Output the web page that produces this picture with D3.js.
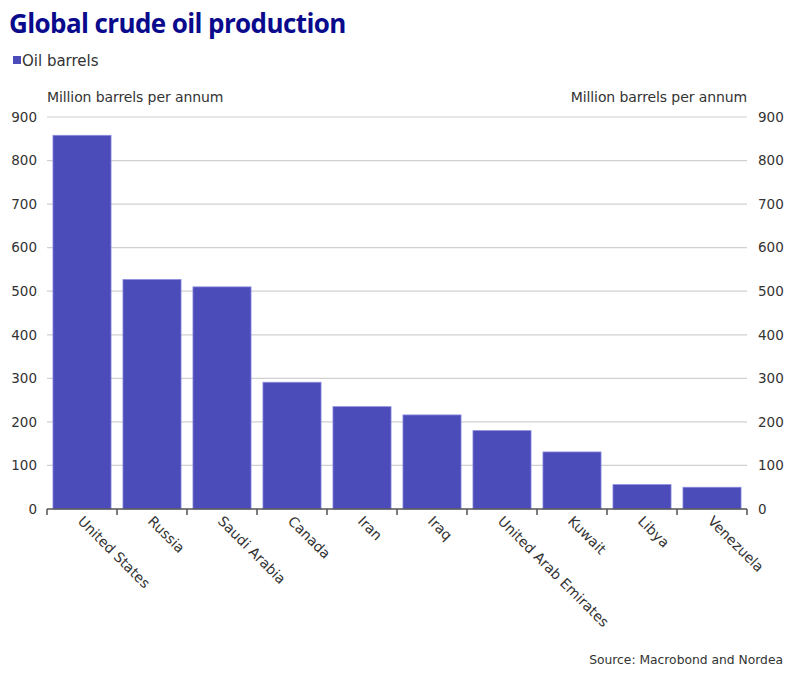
<!DOCTYPE html>
<html><head><meta charset="utf-8">
<script src="https://cdn.jsdelivr.net/npm/d3@7"></script>
<style>body{margin:0;background:#fff}svg{font-family:"DejaVu Sans",Verdana,sans-serif}</style>
</head><body><svg id="c" width="797" height="683"></svg>
<script>
const categories=["United States","Russia","Saudi Arabia","Canada","Iran","Iraq","United Arab Emirates","Kuwait","Libya","Venezuela"];
const values=[858,527,510,291,235,216,180,131,56,50];
const yTicks=[0,100,200,300,400,500,600,700,800,900];
const seriesName="Oil barrels";

(function(){
const svg=d3.select("#c");
const pL=47,pR=747,pT=117,pB=509;
const fs=14, tc="#333";
const x=d3.scaleBand().domain(categories).range([pL,pR]).paddingInner(0.17).paddingOuter(0.085);
const y=d3.scaleLinear().domain([0,900]).range([pB,pT]);

svg.append("text").attr("x",9).attr("y",33).attr("fill","#0a0a8c").attr("font-size",26).attr("font-weight","bold").attr("font-family","'Open Sans',sans-serif").attr("letter-spacing","-0.6").text("Global crude oil production");
svg.append("rect").attr("x",13).attr("y",56).attr("width",8).attr("height",8).attr("fill","#4b4bb9");
svg.append("text").attr("x",22).attr("y",66).attr("font-size",15).attr("fill",tc).text(seriesName);
svg.append("text").attr("x",47).attr("y",102).attr("font-size",fs).attr("fill",tc).attr("letter-spacing","-0.1").text("Million barrels per annum");
svg.append("text").attr("x",747).attr("y",102).attr("text-anchor","end").attr("font-size",fs).attr("fill",tc).attr("letter-spacing","-0.1").text("Million barrels per annum");

svg.append("g").selectAll("line").data(yTicks.filter(d=>d>0)).join("line")
 .attr("x1",pL).attr("x2",pR).attr("y1",d=>y(d)).attr("y2",d=>y(d)).attr("stroke","#d0d0d0").attr("stroke-width",1.2);

svg.append("g").selectAll("rect").data(values).join("rect")
 .attr("x",(d,i)=>x(categories[i])).attr("width",x.bandwidth())
 .attr("y",d=>y(d)).attr("height",d=>y(0)-y(d))
 .attr("fill","#4b4bb9").attr("stroke","#8f8fe0").attr("stroke-width",0.8);

const ly=svg.append("g").attr("transform",`translate(${pL},0)`).call(d3.axisLeft(y).tickValues(yTicks).tickSize(0).tickPadding(10));
ly.select(".domain").remove();
ly.selectAll("text").attr("font-size",13.5).attr("fill",tc).attr("font-family","'DejaVu Sans',sans-serif");
const ry=svg.append("g").attr("transform",`translate(${pR},0)`).call(d3.axisRight(y).tickValues(yTicks).tickSize(0).tickPadding(11));
ry.select(".domain").remove();
ry.selectAll("text").attr("font-size",13.5).attr("fill",tc).attr("font-family","'DejaVu Sans',sans-serif");

svg.append("line").attr("x1",pL).attr("x2",pR).attr("y1",pB).attr("y2",pB).attr("stroke","#555").attr("stroke-width",1.5);
const bounds=d3.range(categories.length+1).map(i=>pL+(pR-pL)*i/categories.length);
svg.append("g").selectAll("line").data(bounds).join("line")
 .attr("x1",d=>d).attr("x2",d=>d).attr("y1",pB).attr("y2",pB+6).attr("stroke","#555").attr("stroke-width",1.5);

svg.append("g").selectAll("text").data(categories).join("text")
 .attr("transform",d=>`translate(${x(d)+x.bandwidth()/2-5},${pB+13}) rotate(45)`)
 .attr("font-size",fs).attr("fill",tc).text(d=>d);

svg.append("text").attr("x",783).attr("y",664).attr("text-anchor","end").attr("font-size",12.3).attr("fill",tc).text("Source: Macrobond and Nordea");
})();
</script></body></html>
